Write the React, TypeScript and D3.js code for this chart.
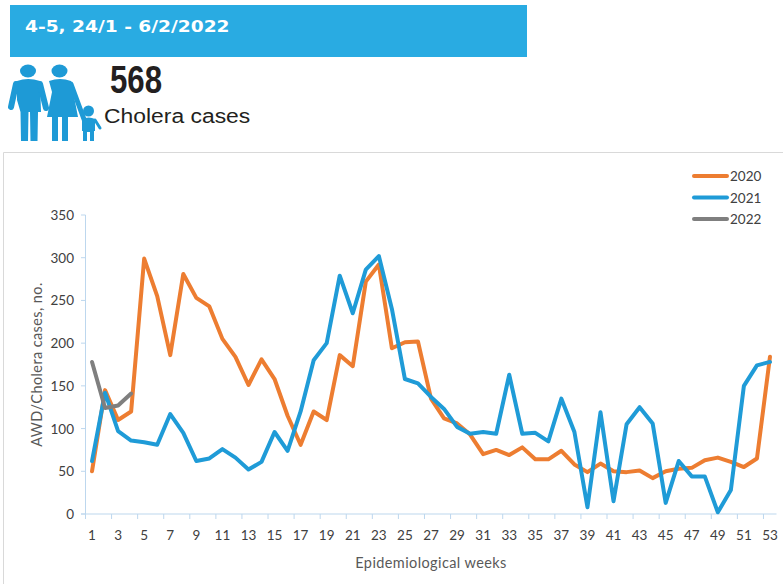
import React from "react";
import * as d3 from "d3";

const weeks = d3.range(1, 54);
const weekTicks = weeks.filter((w) => w % 2 === 1);
const valueTicks = [0, 50, 100, 150, 200, 250, 300, 350];
const cases2020 = [50,145,110,120,299,255,186,281,253,243,205,184,151,181,158,115,81,120,110,186,173,272,292,194,201,202,135,112,106,93,70,75,69,78,64,64,74,58,49,59,50,49,51,42,50,53,54,63,66,61,55,65,184];
const cases2021 = [62,142,97,86,84,81,117,95,62,65,76,66,52,61,96,74,120,180,200,279,235,286,302,240,158,153,137,123,102,94,96,94,163,94,95,85,135,96,8,119,15,105,125,106,13,62,44,44,2,28,150,174,178];
const cases2022 = [178,124,127,141];
const seriesNames = ["2020", "2021", "2022"];
const seriesColors = ["#ED7D31", "#1F9BD7", "#7F7F7F"];
const seriesValues = [cases2020, cases2021, cases2022];

const chartFont = "Lato, 'Open Sans', sans-serif";
const axisColor = "#BDD7EE";
const textColor = "#404040";
const iconColor = "#1E9AD6";

export default function App() {
  const x = d3.scaleBand<number>().domain(weeks).range([85.5, 776.5]);
  const y = d3.scaleLinear().domain([0, 350]).range([514, 215]);
  const line = d3
    .line<number>()
    .x((_, i) => (x(weeks[i]) as number) + x.bandwidth() / 2)
    .y((d) => y(d));

  return (
    <svg width={783} height={584} style={{ position: "absolute", left: 0, top: 0 }}>
      <rect width={783} height={584} fill="#fff" />
      <rect x={10} y={5} width={517} height={52} fill="#29ABE2" />
      <text
        transform="translate(25,32) scale(1.2,1)"
        fill="#fff"
        fontFamily="'DejaVu Sans', sans-serif"
        fontWeight="bold"
        fontSize={15.5}
      >
        4-5, 24/1 - 6/2/2022
      </text>

      {/* family icon */}
      <g fill={iconColor} stroke={iconColor} strokeLinecap="round" strokeLinejoin="round">
        <ellipse cx={28} cy={71} rx={8} ry={6.5} stroke="none" />
        <ellipse cx={59.5} cy={71} rx={8} ry={6.5} stroke="none" />
        <circle cx={88.5} cy={111} r={5.5} stroke="none" />
        <path d="M17 81 Q28 77 40 81 L41 112 L38 112 L37.5 141 L30.5 141 L30 112 L28.5 112 L28 141 L21 141 L20.5 112 L17 100 Z" stroke="none" />
        <path d="M16 84 L11 107" strokeWidth={6} fill="none" />
        <path d="M40 84 L46 108" strokeWidth={6} fill="none" />
        <path d="M49 81 Q60 77 71 81 L78 117 L47 117 L52 92 Z" stroke="none" />
        <path d="M52 117 H58 V141 H52 Z M62 117 H68 V141 H62 Z" stroke="none" />
        <path d="M71 84 L85 122" strokeWidth={5} fill="none" />
        <path d="M82 119 Q89 116 95 119 L95 131 L94 131 L94 141 L90 141 L90 132 L87 132 L87 141 L83 141 L83 131 L82 131 Z" stroke="none" />
        <path d="M95 120 L100 128" strokeWidth={3} fill="none" />
      </g>

      <text
        transform="translate(110,93) scale(0.8,1)"
        fill="#231F20"
        fontFamily="'Liberation Sans', sans-serif"
        fontWeight="bold"
        fontSize={39}
      >
        568
      </text>
      <text
        transform="translate(104,123) scale(1.09,1)"
        fill="#231F20"
        fontFamily="'Liberation Sans', sans-serif"
        fontSize={21}
      >
        Cholera cases
      </text>

      {/* chart frame */}
      <path d="M3.5 584 V152.5 H783" fill="none" stroke="#D9D9D9" strokeWidth={1} />

      {/* y axis */}
      <line x1={85.5} x2={85.5} y1={y(350)} y2={y(0)} stroke={axisColor} />
      {valueTicks.map((t) => (
        <g key={t}>
          <line x1={81} x2={85.5} y1={y(t)} y2={y(t)} stroke={axisColor} />
          <text x={74} y={y(t) + 5} textAnchor="end" fontFamily={chartFont} fontSize={13.5} fill={textColor}>
            {t}
          </text>
        </g>
      ))}
      <text
        transform={`translate(42,${y(175)}) rotate(-90)`}
        textAnchor="middle"
        fontFamily={chartFont}
        fontSize={14.5}
        letterSpacing={0.4}
        fill="#595959"
      >
        AWD/Cholera cases, no.
      </text>

      {/* x axis */}
      <line x1={81} x2={776.5} y1={y(0)} y2={y(0)} stroke={axisColor} strokeWidth={1.2} />
      {weekTicks.map((w) => (
        <g key={w}>
          <line x1={x(w) as number} x2={x(w) as number} y1={y(0)} y2={y(0) + 5} stroke={axisColor} />
          <text
            x={(x(w) as number) + x.bandwidth() / 2}
            y={y(0) + 26}
            textAnchor="middle"
            fontFamily={chartFont}
            fontSize={13.5}
            fill={textColor}
          >
            {w}
          </text>
        </g>
      ))}
      <text x={431} y={568} textAnchor="middle" fontFamily={chartFont} fontSize={14.5} letterSpacing={0.4} fill="#595959">
        Epidemiological weeks
      </text>

      {/* series */}
      {seriesValues.map((vals, i) => (
        <path
          key={seriesNames[i]}
          d={line(vals) as string}
          fill="none"
          stroke={seriesColors[i]}
          strokeWidth={4}
          strokeLinejoin="round"
          strokeLinecap="round"
        />
      ))}

      {/* legend */}
      {seriesNames.map((n, i) => (
        <g key={n}>
          <line x1={694} x2={727} y1={176 + i * 21.5} y2={176 + i * 21.5} stroke={seriesColors[i]} strokeWidth={4} strokeLinecap="round" />
          <text x={730} y={181 + i * 21.5} fontFamily={chartFont} fontSize={13.5} fill={textColor}>
            {n}
          </text>
        </g>
      ))}
    </svg>
  );
}
